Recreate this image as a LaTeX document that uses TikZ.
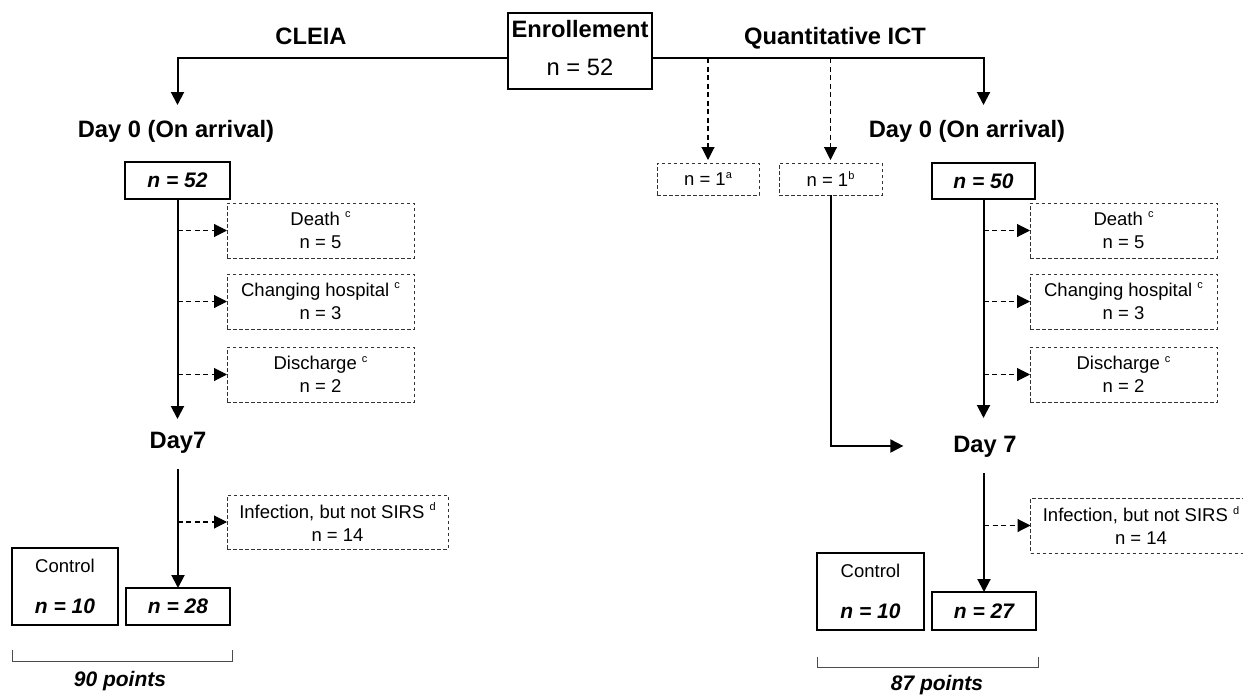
\documentclass[tikz,border=0pt]{standalone}
\usepackage{fontspec}
\setmainfont{Liberation Sans}
\usetikzlibrary{arrows.meta}
% small raised footnote letter
\newcommand\mysup[1]{\raisebox{0.42em}{\fontsize{11}{11}\selectfont #1}}

\begin{document}
\begin{tikzpicture}[x=1pt,y=-1pt,
  every node/.style={inner sep=0pt, outer sep=0pt},
  head/.style={font=\fontsize{23.7}{28}\selectfont\bfseries, text height=17pt, text depth=5pt},
  small/.style={font=\fontsize{18.5}{23}\selectfont},
  plainbox/.style={draw, line width=2pt, align=center, font=\fontsize{23.7}{28}\selectfont},
  thickbox/.style={draw, line width=2.6pt, align=center, font=\fontsize{21}{23}\selectfont\bfseries\itshape},
  ctrlbox/.style={draw, line width=2.6pt, align=center, small},
  dashbox/.style={draw=black!80, line width=0.9pt, dash pattern=on 3.5pt off 2.5pt, align=center, small},
  arr/.style={line width=2pt, -{Triangle[width=13pt,length=13pt]}},
  darr/.style={line width=1.1pt, dash pattern=on 5pt off 3.5pt, -{Triangle[width=13pt,length=13pt]}},
  bracket/.style={draw=black!70, line width=1pt},
  pts/.style={font=\fontsize{21}{23}\selectfont\bfseries\itshape}
]
\useasboundingbox (0,0) rectangle (1243,696);

% enrollment and the two arms
\node[plainbox, minimum width=144pt, minimum height=76pt] (enroll) at (580,51)
  {\textbf{Enrollement}\\[10pt]n = 52\rule[-7pt]{0pt}{7pt}};
\coordinate (ly) at (0,58);
\node[head, anchor=base] (cleia) at (311,45) {CLEIA};
\node[head, anchor=base] (qict) at (835,45) {Quantitative ICT};

\node[head, anchor=base] (day0L) at (176,137) {Day 0 (On arrival)};
\node[head, anchor=base] (day0R) at (967,137) {Day 0 (On arrival)};

\node[thickbox, minimum width=105pt, minimum height=37pt] (n52) at (177.5,180.5) {n = 52};
\node[thickbox, minimum width=103pt, minimum height=36pt] (n50) at (983.5,181) {n = 50};

\node[dashbox, minimum width=102pt, minimum height=32pt] (n1a) at (708,179) {n = 1\mysup{a}};
\node[dashbox, minimum width=103pt, minimum height=32pt] (n1b) at (830.5,179) {n = 1\mysup{b}};

% exclusions, CLEIA arm
\node[dashbox, minimum width=187pt, minimum height=55pt] (deathL) at (320.5,230.5) {Death \mysup{c}\\n = 5};
\node[dashbox, minimum width=187pt, minimum height=55pt] (hospL) at (320.5,301.5) {Changing hospital \mysup{c}\\n = 3};
\node[dashbox, minimum width=187pt, minimum height=55pt] (discL) at (320.5,374.5) {Discharge \mysup{c}\\n = 2};
% exclusions, ICT arm
\node[dashbox, minimum width=187pt, minimum height=55pt] (deathR) at (1123.5,230.5) {Death \mysup{c}\\n = 5};
\node[dashbox, minimum width=187pt, minimum height=55pt] (hospR) at (1123.5,301.5) {Changing hospital \mysup{c}\\n = 3};
\node[dashbox, minimum width=187pt, minimum height=55pt] (discR) at (1123.5,374.5) {Discharge \mysup{c}\\n = 2};

\node[head, anchor=base] (day7L) at (178,448) {Day7};
\node[head, anchor=base] (day7R) at (985,452) {Day 7};

\node[dashbox, minimum width=221pt, minimum height=54pt] (infL) at (337.5,522) {Infection, but not SIRS \mysup{d}\\n = 14};
\node[dashbox, minimum width=221pt, minimum height=55pt] (infR) at (1141,525.5) {Infection, but not SIRS \mysup{d}\\n = 14};

% final groups
\node[ctrlbox, minimum width=106pt, minimum height=77pt] (ctrlL) at (65,586.5)
  {Control\\[18pt]{\fontsize{21}{23}\selectfont\bfseries\itshape n = 10}};
\node[thickbox, minimum width=104pt, minimum height=37pt] (n28) at (178,606.5) {n = 28};
\node[ctrlbox, minimum width=107pt, minimum height=77pt] (ctrlR) at (870.5,591.5)
  {Control\\[18pt]{\fontsize{21}{23}\selectfont\bfseries\itshape n = 10}};
\node[thickbox, minimum width=104pt, minimum height=38pt] (n27) at (984,611) {n = 27};

% connectors from enrollment
\draw[arr, shorten >=15pt] (enroll.west |- ly) -| (n52 |- day0L.north);
\draw[arr, shorten >=15pt] (enroll.east |- ly) -| (n50 |- day0R.north);
\draw[darr, shorten >=3pt] (n1a |- ly) -- (n1a.north);
\draw[darr, shorten >=3pt] (n1b |- ly) -- (n1b.north);
\draw[arr, shorten >=50pt] (n1b.south) |- (day7R.west);

% CLEIA arm
\draw[arr, shorten >=12pt] (n52.south) -- (n52 |- day7L.north);
\draw[darr] (n52 |- deathL.west) -- (deathL.west);
\draw[darr] (n52 |- hospL.west) -- (hospL.west);
\draw[darr] (n52 |- discL.west) -- (discL.west);
\draw[arr, shorten <=16pt] (n28 |- day7L.south) -- (n28.north);
\draw[darr] (n52 |- infL.west) -- (infL.west);

% ICT arm
\draw[arr, shorten >=17pt] (n50.south) -- (n50 |- day7R.north);
\draw[darr] (n50 |- deathR.west) -- (deathR.west);
\draw[darr] (n50 |- hospR.west) -- (hospR.west);
\draw[darr] (n50 |- discR.west) -- (discR.west);
\draw[arr, shorten <=16pt] (n27 |- day7R.south) -- (n27.north);
\draw[darr] (n27 |- infR.west) -- (infR.west);

% brackets with point totals
\draw[bracket] (12,650) -- (12,661) -- (232,661) -- (232,650);
\node[pts] (ptsL) at (120,681) {90 points};
\draw[bracket] (817,657) -- (817,667) -- (1038,667) -- (1038,657);
\node[pts] (ptsR) at (937,685) {87 points};
\end{tikzpicture}
\end{document}
